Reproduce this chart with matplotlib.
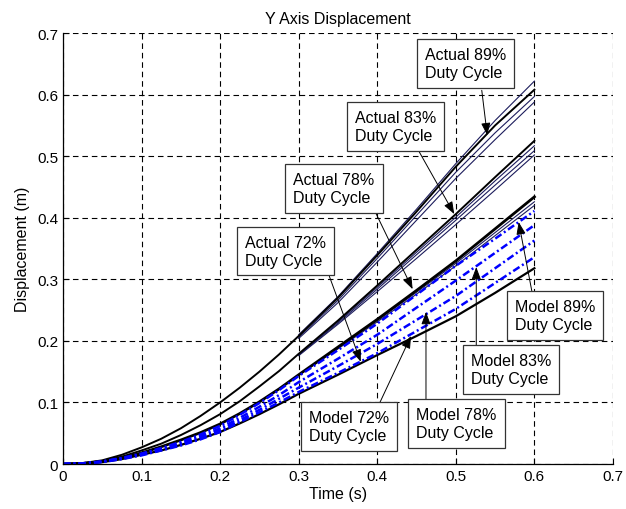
import numpy as np
import matplotlib
matplotlib.use("Agg")
import matplotlib.pyplot as plt
from matplotlib.ticker import FuncFormatter

plt.rcParams['font.family'] = ['Liberation Sans', 'DejaVu Sans']

# time axis (s)
t = [0, 0.025, 0.05, 0.075, 0.1, 0.125, 0.15, 0.175, 0.2, 0.225, 0.25, 0.275, 0.3,
     0.35, 0.4, 0.45, 0.5, 0.55, 0.6]
t_late = [0.3, 0.35, 0.4, 0.45, 0.5, 0.55, 0.6]

# measured displacement (m), main run of each duty cycle
act89 = [0, 0.0015, 0.006, 0.015, 0.027, 0.041, 0.058, 0.078, 0.100, 0.124, 0.150, 0.178, 0.208,
         0.270, 0.339, 0.410, 0.483, 0.550, 0.608]
act83 = [0, 0.001, 0.005, 0.012, 0.022, 0.033, 0.047, 0.063, 0.081, 0.102, 0.126, 0.151, 0.179,
         0.233, 0.290, 0.348, 0.406, 0.466, 0.525]
act78 = [0, 0.001, 0.004, 0.010, 0.018, 0.028, 0.039, 0.051, 0.065, 0.082, 0.101, 0.122, 0.145,
         0.190, 0.235, 0.282, 0.330, 0.382, 0.434]
act72 = [0, 0.001, 0.003, 0.008, 0.015, 0.022, 0.031, 0.041, 0.052, 0.066, 0.081, 0.097, 0.114,
         0.145, 0.177, 0.208, 0.240, 0.278, 0.318]

# repeat runs (thin lines), only where they split from the main run
rep89 = [[0.210, 0.272, 0.342, 0.414, 0.488, 0.558, 0.622],
         [0.206, 0.266, 0.334, 0.404, 0.474, 0.538, 0.597],
         [0.204, 0.262, 0.328, 0.396, 0.464, 0.527, 0.588]]
rep83 = [[0.178, 0.231, 0.287, 0.344, 0.401, 0.460, 0.517],
         [0.177, 0.229, 0.284, 0.340, 0.396, 0.453, 0.509],
         [0.176, 0.227, 0.280, 0.334, 0.389, 0.445, 0.502]]
rep78 = [[0.145, 0.188, 0.233, 0.279, 0.326, 0.376, 0.426],
         [0.144, 0.187, 0.231, 0.276, 0.322, 0.371, 0.420]]

# model displacement (m)
mod89 = [0, 0.001, 0.004, 0.010, 0.017, 0.026, 0.036, 0.048, 0.062, 0.080, 0.099, 0.120, 0.143,
         0.185, 0.228, 0.275, 0.322, 0.366, 0.411]
mod83 = [0, 0.001, 0.004, 0.009, 0.016, 0.024, 0.034, 0.045, 0.058, 0.075, 0.093, 0.112, 0.133,
         0.171, 0.210, 0.254, 0.298, 0.343, 0.388]
mod78 = [0, 0.001, 0.004, 0.009, 0.015, 0.023, 0.032, 0.043, 0.055, 0.071, 0.088, 0.106, 0.124,
         0.159, 0.195, 0.234, 0.273, 0.318, 0.363]
mod72 = [0, 0.001, 0.003, 0.008, 0.014, 0.022, 0.030, 0.040, 0.052, 0.068, 0.084, 0.100, 0.117,
         0.148, 0.180, 0.216, 0.252, 0.294, 0.336]

# labels: (text, box centre, arrow tail, arrow tip)
notes = [
    ("Actual 89%\nDuty Cycle", (0.512, 0.650), (0.533, 0.607), (0.540, 0.534)),
    ("Actual 83%\nDuty Cycle", (0.423, 0.549), (0.453, 0.508), (0.498, 0.406)),
    ("Actual 78%\nDuty Cycle", (0.345, 0.447), (0.398, 0.408), (0.445, 0.284)),
    ("Actual 72%\nDuty Cycle", (0.283, 0.346), (0.339, 0.305), (0.379, 0.166)),
    ("Model 72%\nDuty Cycle", (0.364, 0.061), (0.403, 0.099), (0.443, 0.208)),
    ("Model 78%\nDuty Cycle", (0.501, 0.066), (0.462, 0.104), (0.462, 0.247)),
    ("Model 83%\nDuty Cycle", (0.570, 0.153), (0.526, 0.192), (0.526, 0.320)),
    ("Model 89%\nDuty Cycle", (0.626, 0.241), (0.597, 0.279), (0.580, 0.393)),
]

fig = plt.figure(figsize=(6.26, 5.10), dpi=100)
ax = fig.add_axes([0.1006, 0.0882, 0.8786, 0.845])

navy = '#1c1c5c'
for reps in (rep89, rep83, rep78):
    for r in reps:
        ax.plot(t_late, r, color=navy, lw=0.8)

ax.plot(t, act89, color='k', lw=1.4)
ax.plot(t, act83, color='k', lw=1.4)
ax.plot(t, act78, color='k', lw=2.0)
ax.plot(t, act72, color='k', lw=1.6)

dashdot = (0, (3, 1.2, 0.8, 1.2))
for m in (mod89, mod83, mod78, mod72):
    ax.plot(t, m, color='#0000ff', lw=1.8, linestyle=dashdot)

for txt, c, tail, tip in notes:
    ax.annotate('', xy=tip, xytext=tail,
                arrowprops=dict(arrowstyle='-|>,head_length=0.75,head_width=0.28',
                                color='k', lw=0.7, mutation_scale=10,
                                shrinkA=0, shrinkB=0))
    ax.text(c[0], c[1], txt, ha='center', va='center', multialignment='left',
            fontsize=11.5, linespacing=1.25, zorder=5,
            bbox=dict(boxstyle='square,pad=0.5', fc='white', ec='#333333', lw=0.9))

ax.set_xlim(0, 0.7)
ax.set_ylim(0, 0.7)
ax.set_xticks(np.arange(0, 0.71, 0.1))
ax.set_yticks(np.arange(0, 0.71, 0.1))
fmt = FuncFormatter(lambda v, p: '%g' % round(v, 2))
ax.xaxis.set_major_formatter(fmt)
ax.yaxis.set_major_formatter(fmt)
ax.tick_params(direction='in', labelsize=11, length=4, width=0.8)
ax.grid(True, color='k', linestyle=(0, (5, 3.5)), lw=0.8)
ax.set_axisbelow(True)
for s in ('top', 'right'):
    ax.spines[s].set_visible(False)
for s in ('left', 'bottom'):
    ax.spines[s].set_linewidth(0.9)

ax.set_title('Y Axis Displacement', fontsize=11.5, pad=7)
ax.set_xlabel('Time (s)', fontsize=11.5, labelpad=2)
ax.set_ylabel('Displacement (m)', fontsize=11.5, labelpad=5)

fig.savefig('out.png', dpi=100)
